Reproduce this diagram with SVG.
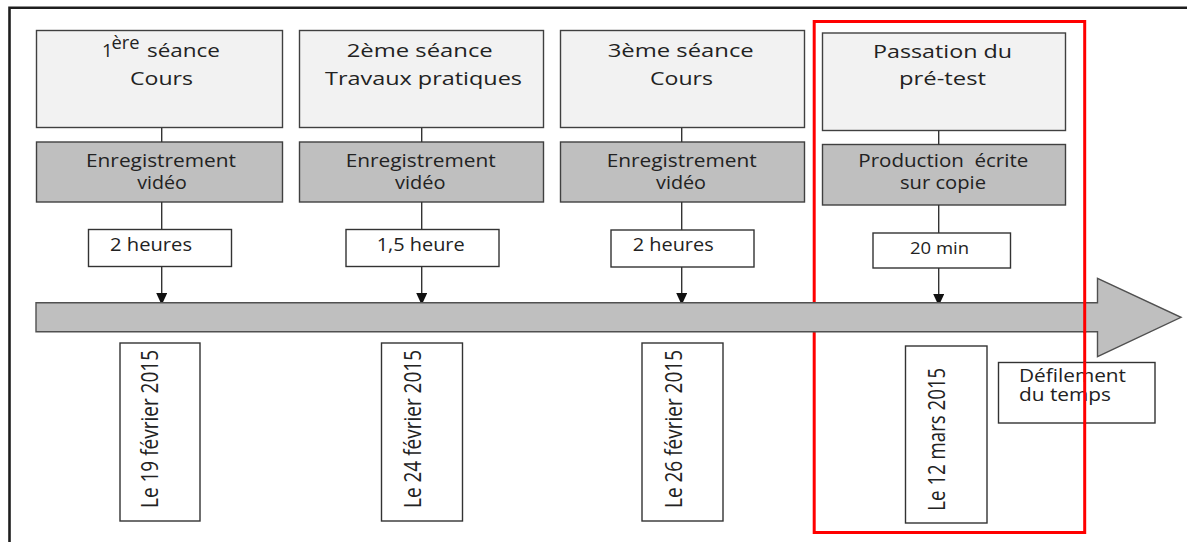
<svg xmlns="http://www.w3.org/2000/svg" width="1187" height="542" viewBox="0 0 1187 542">
<defs>
<style>
.t{font-family:"Open Sans","Liberation Sans",sans-serif;font-size:18.5px;fill:#222;}
.s{font-size:16px;}
.r{font-size:23px;}
.lb{fill:#f2f2f2;stroke:#404040;stroke-width:1.4;}
.gb{fill:#bfbfbf;stroke:#404040;stroke-width:1.4;}
.wb{fill:#fff;stroke:#333;stroke-width:1.4;}
.cn{stroke:#333;stroke-width:1.4;fill:none;}
</style>
<marker id="ah" markerUnits="userSpaceOnUse" markerWidth="12" markerHeight="11" refX="12" refY="5.5" orient="auto">
<path d="M0,0 L12,5.5 L0,11 z" fill="#111"/>
</marker>
</defs>
<rect width="1187" height="542" fill="#fff"/>
<g id="frame" fill="none" stroke="#1e1e1e" stroke-width="2.6">
<path d="M9.5,542 V7.8 H1187"/>
</g>
<rect id="highlight" x="814.2" y="21.5" width="270.5" height="511" fill="none" stroke="#f00" stroke-width="3"/>

<g id="node1">
<rect class="lb" x="36.5" y="30.5" width="246" height="97"/>
<text class="t" x="102" y="57">1</text>
<text class="t" x="111.5" y="49" font-size="12" textLength="28" lengthAdjust="spacingAndGlyphs">ère</text>
<text class="t" x="147" y="57" textLength="73" lengthAdjust="spacingAndGlyphs">séance</text>
<text class="t" x="130" y="85" textLength="63" lengthAdjust="spacingAndGlyphs">Cours</text>
</g>
<g id="node2">
<rect class="lb" x="299.5" y="30.5" width="244" height="97"/>
<text class="t" x="346.7" y="57" textLength="146" lengthAdjust="spacingAndGlyphs">2ème séance</text>
<text class="t" x="325" y="85" textLength="197" lengthAdjust="spacingAndGlyphs">Travaux pratiques</text>
</g>
<g id="node3">
<rect class="lb" x="560.5" y="30.5" width="244" height="97"/>
<text class="t" x="607.7" y="57" textLength="146" lengthAdjust="spacingAndGlyphs">3ème séance</text>
<text class="t" x="650" y="85" textLength="63" lengthAdjust="spacingAndGlyphs">Cours</text>
</g>
<g id="node4">
<rect class="lb" x="822.5" y="33" width="243" height="97.5"/>
<text class="t" x="873" y="58" textLength="139" lengthAdjust="spacingAndGlyphs">Passation du</text>
<text class="t" x="899" y="85" textLength="87" lengthAdjust="spacingAndGlyphs">pré-test</text>
</g>

<g id="rec1">
<rect class="gb" x="36.5" y="142" width="246" height="60"/>
<text class="t" x="86" y="166.5" textLength="150" lengthAdjust="spacingAndGlyphs">Enregistrement</text>
<text class="t" x="137.3" y="188.5" textLength="49.5" lengthAdjust="spacingAndGlyphs">vidéo</text>
</g>
<g id="rec2">
<rect class="gb" x="299.5" y="142" width="244" height="60"/>
<text class="t" x="345.7" y="166.5" textLength="150" lengthAdjust="spacingAndGlyphs">Enregistrement</text>
<text class="t" x="395" y="188.5" textLength="50.5" lengthAdjust="spacingAndGlyphs">vidéo</text>
</g>
<g id="rec3">
<rect class="gb" x="560.5" y="142" width="244" height="60"/>
<text class="t" x="606.7" y="166.5" textLength="150" lengthAdjust="spacingAndGlyphs">Enregistrement</text>
<text class="t" x="656" y="188.5" textLength="50" lengthAdjust="spacingAndGlyphs">vidéo</text>
</g>
<g id="rec4">
<rect class="gb" x="822.5" y="144.5" width="243" height="60.5"/>
<text class="t" x="858.3" y="167" textLength="170" lengthAdjust="spacingAndGlyphs" style="white-space:pre">Production  écrite</text>
<text class="t" x="900" y="188.5" textLength="86" lengthAdjust="spacingAndGlyphs">sur copie</text>
</g>

<g id="dur1">
<rect class="wb" x="88.5" y="229.5" width="143" height="37"/>
<text class="t" x="110" y="251" textLength="82" lengthAdjust="spacingAndGlyphs">2 heures</text>
</g>
<g id="dur2">
<rect class="wb" x="346" y="229.5" width="153" height="37"/>
<text class="t" x="376.7" y="251" textLength="88" lengthAdjust="spacingAndGlyphs">1,5 heure</text>
</g>
<g id="dur3">
<rect class="wb" x="611" y="230" width="143" height="37"/>
<text class="t" x="632.7" y="251" textLength="81" lengthAdjust="spacingAndGlyphs">2 heures</text>
</g>
<g id="dur4">
<rect class="wb" x="873" y="233" width="137.5" height="35"/>
<text class="t s" x="910" y="254" textLength="59" lengthAdjust="spacingAndGlyphs">20 min</text>
</g>

<g id="connectors">
<path class="cn" d="M161.7,128 V142 M161.7,202 V229.5 M421.7,128 V142 M421.7,202 V229.5 M681.7,128 V142 M681.7,202 V230 M938.7,130.5 V144.5 M938.7,205 V233"/>
<line class="cn" x1="161.7" y1="266.5" x2="161.7" y2="305" marker-end="url(#ah)"/>
<line class="cn" x1="421.7" y1="266.5" x2="421.7" y2="305" marker-end="url(#ah)"/>
<line class="cn" x1="681.7" y1="267" x2="681.7" y2="305" marker-end="url(#ah)"/>
<line class="cn" x1="938.7" y1="268" x2="938.7" y2="306" marker-end="url(#ah)"/>
</g>

<g id="timeline">
<polygon points="36,302.7 1097.5,302.7 1097.5,278.3 1181,317.3 1097.5,356.7 1097.5,331.7 36,331.7" fill="#bfbfbf" stroke="#505050" stroke-width="1.4"/>
<line x1="1084.7" y1="302" x2="1084.7" y2="333" stroke="#f00" stroke-width="3"/>
</g>

<g id="date1">
<rect class="wb" x="120" y="343" width="80" height="178"/>
<text class="t r" transform="translate(158,508) rotate(-90)" textLength="158" lengthAdjust="spacingAndGlyphs">Le 19 février 2015</text>
</g>
<g id="date2">
<rect class="wb" x="381.5" y="343" width="81" height="178"/>
<text class="t r" transform="translate(421,508) rotate(-90)" textLength="158" lengthAdjust="spacingAndGlyphs">Le 24 février 2015</text>
</g>
<g id="date3">
<rect class="wb" x="642" y="343" width="81" height="178"/>
<text class="t r" transform="translate(682,508) rotate(-90)" textLength="158" lengthAdjust="spacingAndGlyphs">Le 26 février 2015</text>
</g>
<g id="date4">
<rect class="wb" x="905.5" y="346" width="81.5" height="177"/>
<text class="t r" transform="translate(945,510.7) rotate(-90)" textLength="143" lengthAdjust="spacingAndGlyphs">Le 12 mars 2015</text>
</g>

<g id="legend">
<rect class="wb" x="998.5" y="362.5" width="156.5" height="60.5"/>
<text class="t" x="1019" y="382" font-size="15.5" textLength="107" lengthAdjust="spacingAndGlyphs">Défilement</text>
<text class="t" x="1019" y="400.5" font-size="15.5" textLength="92" lengthAdjust="spacingAndGlyphs">du temps</text>
<line x1="1084.7" y1="362" x2="1084.7" y2="424" stroke="#f00" stroke-width="3"/>
</g>
</svg>
